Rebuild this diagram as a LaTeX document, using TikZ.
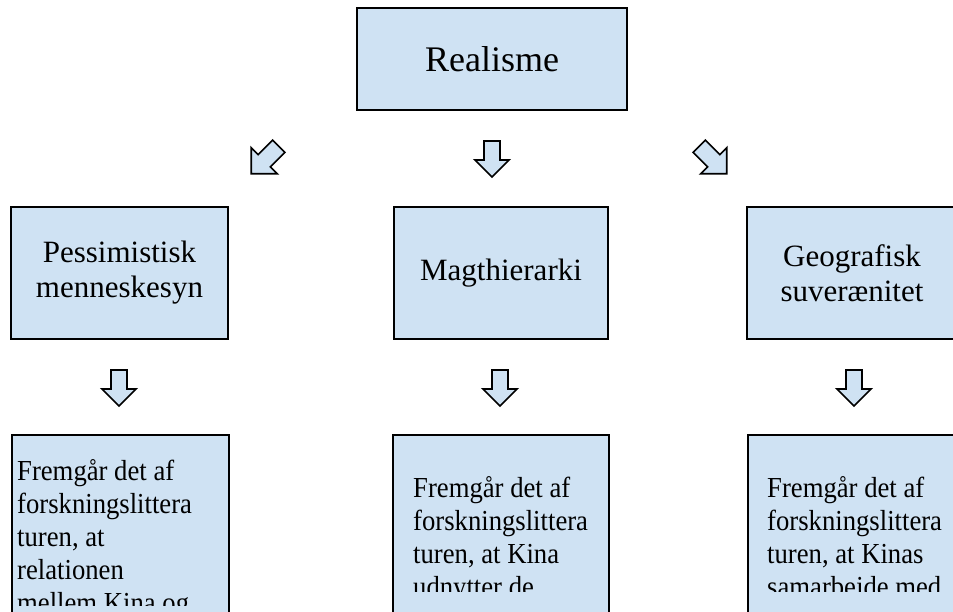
\documentclass[tikz,border=0pt]{standalone}
\usepackage{fontspec}
\setmainfont{Liberation Serif}
\definecolor{boxblue}{HTML}{CFE2F3}
\tikzset{
  box/.style={draw=black, line width=1.9pt, fill=boxblue, inner sep=0pt},
  toptext/.style={font=\fontsize{36}{40}\selectfont},
  midtext/.style={font=\fontsize{31}{35}\selectfont, align=center},
  bottext/.style={font=\fontsize{29}{33}\selectfont, align=left, anchor=north west, inner sep=0pt, xscale=0.92},
  pics/blockarrow/.style={code={
    \draw[line width=1.7pt, fill=boxblue, line join=miter]
      (-8,-18) -- (8,-18) -- (8,1) -- (17,1) -- (0,18) -- (-17,1) -- (-8,1) -- cycle;
  }}
}
\begin{document}
\begin{tikzpicture}[x=1pt, y=-1pt]
\useasboundingbox (0,0) rectangle (953,611);
\clip (0,0) rectangle (953,611);
% top
\node[box, minimum width=270pt, minimum height=102pt, toptext] (real) at (492,59) {Realisme};
% middle row
\node[box, minimum width=217pt, minimum height=132pt, midtext] (pess) at (119.5,273) {Pessimistisk\\menneskesyn};
\node[box, minimum width=214pt, minimum height=132pt, midtext] (magt) at (501,273) {Magthierarki};
\node[box, minimum width=218pt, minimum height=132pt, midtext] (geo) at (856,273) {\hspace*{-8pt}Geografisk\\\hspace*{-8pt}suverænitet};
% bottom row boxes
\node[box, anchor=north west, minimum width=217pt, minimum height=260pt] (b1) at (11,434) {};
\node[box, anchor=north west, minimum width=216pt, minimum height=260pt] (b2) at (392,434) {};
\node[box, anchor=north west, minimum width=218pt, minimum height=260pt] (b3) at (747,434) {};
\begin{scope}
\clip (12,435) rectangle (227,605);
\node[bottext] (t1) at (17,459) {Fremgår det af\\forskningslittera\\turen, at\\relationen\\mellem Kina og};
\end{scope}
\begin{scope}
\clip (393,435) rectangle (607,591);
\node[bottext] (t2) at (413,476) {Fremgår det af\\forskningslittera\\turen, at Kina\\udnytter de};
\end{scope}
\begin{scope}
\clip (748,435) rectangle (953,591);
\node[bottext] (t3) at (767,476) {Fremgår det af\\forskningslittera\\turen, at Kinas\\samarbejde med};
\end{scope}
% block arrows
\pic[rotate=-45, scale=1.08] at (265,160) {blockarrow};
\pic at (492,159) {blockarrow};
\pic[rotate=45, scale=1.08] at (713,160) {blockarrow};
\pic at (119,388) {blockarrow};
\pic at (500,388) {blockarrow};
\pic at (854,388) {blockarrow};
\end{tikzpicture}
\end{document}
